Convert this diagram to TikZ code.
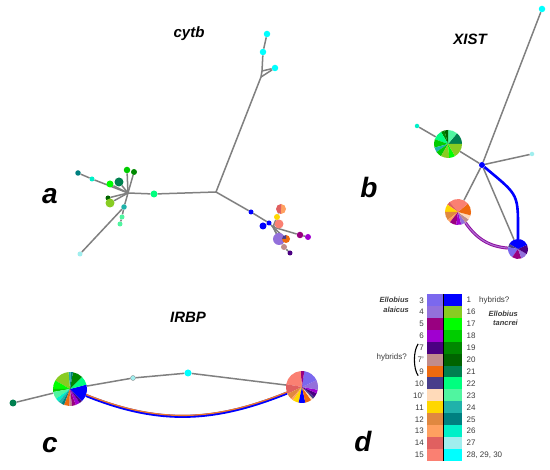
\documentclass[tikz,border=0pt]{standalone}
\usepackage{fontspec}
\setmainfont{Liberation Sans}
\pgfdeclarelayer{bg}
\pgfsetlayers{bg,main}
\definecolor{c1}{HTML}{0000FF}
\definecolor{c3}{HTML}{7B68EE}
\definecolor{c4}{HTML}{9370DB}
\definecolor{c5}{HTML}{990080}
\definecolor{c6}{HTML}{A000D0}
\definecolor{c7}{HTML}{4B0082}
\definecolor{c7p}{HTML}{C08C8C}
\definecolor{c9}{HTML}{EE6A10}
\definecolor{c10}{HTML}{483D8B}
\definecolor{c10p}{HTML}{FFDAB9}
\definecolor{c11}{HTML}{FFD700}
\definecolor{c12}{HTML}{E08840}
\definecolor{c13}{HTML}{FFA060}
\definecolor{c14}{HTML}{E06060}
\definecolor{c15}{HTML}{FA8072}
\definecolor{c16}{HTML}{88CC22}
\definecolor{c17}{HTML}{00FF00}
\definecolor{c18}{HTML}{00CC00}
\definecolor{c19}{HTML}{008800}
\definecolor{c20}{HTML}{006400}
\definecolor{c21}{HTML}{008050}
\definecolor{c22}{HTML}{00FF7F}
\definecolor{c23}{HTML}{50F5A0}
\definecolor{c24}{HTML}{20B2AA}
\definecolor{c25}{HTML}{008080}
\definecolor{c26}{HTML}{00F0C8}
\definecolor{c27}{HTML}{A0EEEE}
\definecolor{c28}{HTML}{00FFFF}
\definecolor{edgegray}{HTML}{808080}
\definecolor{labgray}{HTML}{3C3C3C}
\definecolor{arcorange}{HTML}{F07828}
\definecolor{arcpurple}{HTML}{8E0A9E}
\definecolor{arclav}{HTML}{B58BE0}
\newcommand\piechart[3]{%
  \foreach \wc/\we [remember=\we as \ws (initially 0)] in {#3}{%
    \fill[fill=\wc] (#1.center) -- ++(\ws:#2) arc[start angle=\ws, end angle=\we, radius=#2] -- cycle;}}
\begin{document}
\begin{tikzpicture}[x=1pt,y=1pt,
  edge/.style={draw=edgegray, line width=1.5pt},
  dot/.style 2 args={circle, inner sep=0pt, minimum size=#1, fill=#2},
  piec/.style={circle, inner sep=0pt, minimum size=#1},
  title/.style={font=\fontsize{15}{18}\selectfont\bfseries\itshape, anchor=base},
  panel/.style={font=\fontsize{28}{30}\selectfont\bfseries\itshape, anchor=base},
  num/.style={font=\fontsize{8}{9}\selectfont, text=labgray, inner sep=0pt},
  species/.style={font=\fontsize{7.5}{9.5}\selectfont\bfseries\itshape, text=labgray, inner sep=0pt},
  swatch/.style={inner sep=0pt, minimum height=12.1pt, anchor=north west, fill=#1}
]
\useasboundingbox (0,0) rectangle (550,-470);

% ---------- titles and panel letters
\node[title] (tcytb) at (189,-38) {cytb};
\node[title] (txist) at (470,-45) {XIST};
\node[title] (tirbp) at (188,-323) {IRBP};
\node[panel] (pa) at (50,-204) {a};
\node[panel] (pb) at (369,-198) {b};
\node[panel] (pc) at (50,-453) {c};
\node[panel] (pd) at (363,-452) {d};

% ---------- cytb
\coordinate (C) at (216,-192);
\coordinate (U1) at (261,-77);
\coordinate (U2) at (262,-71);
\coordinate (HL) at (128,-193);
\coordinate (HR) at (273,-227);
\node[dot={6.5pt}{c28}] (cy1) at (267,-34) {};
\node[dot={6.5pt}{c28}] (cy2) at (263,-52) {};
\node[dot={6.5pt}{c28}] (cy3) at (275,-68) {};
\node[dot={7pt}{c22}] (g0) at (154,-194) {};
\node[dot={5.5pt}{c25}] (t1) at (78,-173) {};
\node[dot={5pt}{c26}] (c1n) at (92,-179) {};
\node[dot={7pt}{c17}] (g1) at (110,-184) {};
\node[dot={9pt}{c21}] (dg1) at (119,-182) {};
\node[dot={6.5pt}{c18}] (g2) at (127,-170) {};
\node[dot={6pt}{c19}] (dg2) at (134,-172) {};
\node[dot={5pt}{c20}] (dg3) at (108,-198) {};
\node[dot={9pt}{c16}] (yg) at (110,-203) {};
\node[dot={5.5pt}{c24}] (t2) at (124,-207) {};
\node[dot={5pt}{c23}] (lg1) at (122,-217) {};
\node[dot={5pt}{c23}] (lg2) at (120,-224) {};
\node[dot={5pt}{c27}] (lc) at (80,-254) {};
\node[dot={5pt}{c1}] (b1) at (251,-212) {};
\node[dot={5pt}{c1}] (b3) at (269,-223) {};
\node[dot={7pt}{c1}] (b2) at (263,-226) {};
\node[piec=10pt] (pie1) at (281,-209) {};
\node[dot={6pt}{c11}] (gold) at (277,-217) {};
\node[dot={9pt}{c15}] (sal) at (279,-224) {};
\node[dot={6.5pt}{c5}] (p1) at (300,-235) {};
\node[dot={6pt}{c6}] (p2) at (308,-237) {};
\node[dot={12pt}{c4}] (lav) at (279,-239) {};
\node[piec=8pt] (pie2) at (286,-239) {};
\node[dot={6pt}{c7p}] (pink) at (284,-247) {};
\node[dot={5pt}{c7}] (dp) at (290,-253) {};
\piechart{pie1}{5}{c13/90, c14/270, c13/360}
\piechart{pie2}{4}{c9/90, c10/180, c9/360}

% ---------- XIST
\node[dot={6pt}{c1}] (hx) at (482,-165) {};
\node[dot={6.5pt}{c28}] (xc1) at (542,-9) {};
\node[dot={4.5pt}{c26}] (xc2) at (417,-126) {};
\node[dot={4.5pt}{c27}] (xc3) at (532,-154) {};
\node[piec=28pt] (gpie) at (448,-144) {};
\node[piec=26pt] (opie) at (458,-212) {};
\node[piec=20pt] (bpie) at (518,-249) {};
\draw[c1, line width=2.6pt] (hx) to[out=-40, in=90, looseness=1.5] (bpie);
\draw[arcpurple, line width=3pt] (opie) to[out=-55, in=175] (bpie);
\draw[arclav, line width=1.1pt, opacity=0.8] (opie) to[out=-55, in=175] (bpie);
\piechart{gpie}{14}{c21/50, c23/90, c20/105, c19/120, c22/160, c18/195, c24/215, c18/240, c16/275, c17/300, c16/360}
\piechart{opie}{13}{c9/40, c15/130, c14/145, c11/180, c12/218, c13/232, c5/262, c6/285, c4/305, c7p/325, c10p/345, c9/360}
\piechart{bpie}{10}{c7/25, c1/150, c10/170, c3/235, c5/290, c4/330, c7/360}

% ---------- IRBP
\node[dot={7pt}{c21}] (idg) at (13,-403) {};
\node[piec=34pt] (lpie) at (70,-389) {};
\node[dot={5pt}{c27}, draw=edgegray, line width=0.3pt] (ilc) at (133,-378) {};
\node[dot={7pt}{c28}] (ic) at (188,-373) {};
\node[piec=32pt] (rpie) at (302,-387) {};
\draw[c1, line width=3pt] (lpie) to[out=-22, in=-158] (rpie);
\draw[arcorange, line width=1.3pt, transform canvas={yshift=1pt}] (lpie) to[out=-22, in=-158] (rpie);
\piechart{lpie}{17}{c1/15, c22/45, c19/80, c25/88, c24/95, c16/150, c17/180, c18/190, c23/215, c26/228, c24/240, c25/250, c9/268, c7p/277, c5/290, c6/305, c7/315, c1/360}
\piechart{rpie}{16}{c4/25, c3/82, c5/95, c15/170, c14/205, c12/228, c13/236, c11/258, c1/282, c9/305, c10p/313, c10/322, c7/337, c6/350, c4/360}

% ---------- connectors (behind)
\begin{pgfonlayer}{bg}
\fill[white] (0,0) rectangle (550,-470);
\draw[edge] (C) -- (U1) -- (U2) -- (cy2) -- (cy1);
\draw[edge] (U1) -- (cy3);
\draw[edge] (U2) -- (cy3);
\draw[edge] (C) -- (g0) -- (HL);
\draw[edge] (HL) -- (c1n) -- (t1);
\draw[edge] (HL) -- (g1);
\draw[edge] (HL) -- (dg1);
\draw[edge] (HL) -- (g2);
\draw[edge] (HL) -- (dg2);
\draw[edge] (HL) -- (dg3);
\draw[edge] (HL) -- (yg);
\draw[edge] (HL) -- (t2) -- (lg1) -- (lg2);
\draw[edge] (t2) -- (lc);
\draw[edge] (C) -- (b1) -- (b3) -- (HR);
\draw[edge] (b3) -- (b2);
\draw[edge] (HR) -- (gold) -- (pie1);
\draw[edge] (HR) -- (sal);
\draw[edge] (HR) -- (p1) -- (p2);
\draw[edge] (HR) -- (lav);
\draw[edge] (HR) -- (pie2);
\draw[edge] (HR) -- (pink) -- (dp);
\draw[edge] (hx) -- (xc1);
\draw[edge] (hx) -- (gpie) -- (xc2);
\draw[edge] (hx) -- (xc3);
\draw[edge] (hx) -- (opie);
\draw[edge] (hx) -- (bpie);
\draw[edge] (idg) -- (lpie) -- (ilc) -- (ic) -- (rpie);
\end{pgfonlayer}

% ---------- legend
\foreach \lab/\col [count=\i from 0] in {3/c3, 4/c4, 5/c5, 6/c6, 7/c7, 7'/c7p, 9/c9, 10/c10, 10'/c10p, 11/c11, 12/c12, 13/c13, 14/c14, 15/c15}{
  \node[swatch=\col, minimum width=16.7pt] (sl\i) at (427,{-294-11.9*\i}) {};
  \node[num, anchor=east] (ll\i) at ([xshift=-3pt]sl\i.west) {\lab};
}
\foreach \lab/\col [count=\i from 0] in {1/c1, 16/c16, 17/c17, 18/c18, 19/c19, 20/c20, 21/c21, 22/c22, 23/c23, 24/c24, 25/c25, 26/c26, 27/c27}{
  \node[swatch=\col, minimum width=17.8pt] (sr\i) at (443.7,{-294-11.9*\i}) {};
  \node[num, anchor=west] (lr\i) at ([xshift=4.5pt]sr\i.east) {\lab};
}
\node[swatch=c28, minimum width=17.8pt] (sr13) at (443.7,{-294-11.9*13}) {};
\node[num, anchor=west] (lr13) at ([xshift=4.5pt]sr13.east) {28, 29, 30};
\draw[black, line width=0.9pt] (sr0.north west) -- (sr13.south west);
\node[num, anchor=west] (hyb1) at (479,-300) {hybrids?};
\node[num, anchor=east] (hyb2) at (407,-357) {hybrids?};
\node[species, align=right, anchor=east] (spA) at (409,-305) {Ellobius\\alaicus};
\node[species, align=right, anchor=east] (spT) at (518,-318.5) {Ellobius\\tancrei};
\draw[black, line width=1.1pt] (ll4.north west) ++(-1pt,1pt) coordinate (brA)
  .. controls +(-5pt,-7pt) and +(-5pt,7pt) .. ([xshift=-1pt,yshift=-1pt]ll6.south west) coordinate (brB);
\end{tikzpicture}
\end{document}
